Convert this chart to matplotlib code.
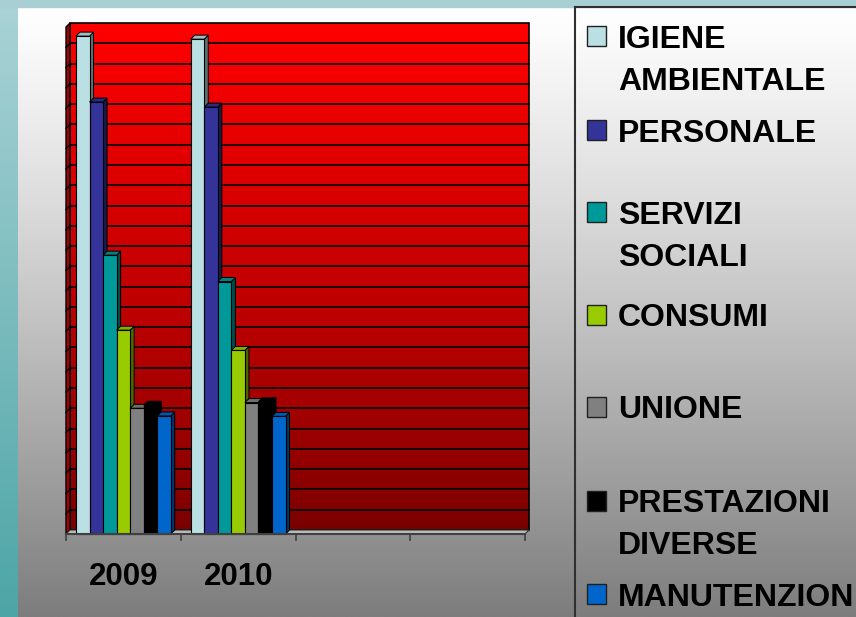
import matplotlib
matplotlib.use("Agg")
import matplotlib.pyplot as plt
import numpy as np
from matplotlib.patches import Polygon, Rectangle
from matplotlib.colors import to_rgb

# categories on the x axis (last two slots are empty in the original)
years = ["2009", "2010", "", ""]

series_names = [
    "IGIENE\nAMBIENTALE",
    "PERSONALE",
    "SERVIZI\nSOCIALI",
    "CONSUMI",
    "UNIONE",
    "PRESTAZIONI\nDIVERSE",
    "MANUTENZION",
]
series_colors = ["#BBE0E3", "#333399", "#009999", "#99CC00", "#808080", "#000000", "#0066CC"]

# values per series, one per year (read in grid units, no scale shown)
igiene = [24.55, 24.4]
personale = [21.3, 21.05]
servizi = [13.75, 12.45]
consumi = [10.05, 9.05]
unione = [6.2, 6.48]
prestazioni = [6.35, 6.52]
manutenzione = [5.82, 5.8]
values = [igiene, personale, servizi, consumi, unione, prestazioni, manutenzione]

W, H, DPI = 856, 617, 100
FONT = "Liberation Sans"

fig = plt.figure(figsize=(W / DPI, H / DPI), dpi=DPI)

# ---- background (pixel coordinates) ----
bg = fig.add_axes([0, 0, 1, 1])
bg.set_xlim(0, W)
bg.set_ylim(H, 0)
bg.axis("off")

t = np.linspace(0, 1, 256) ** 1.15
panel = (255 - 130 * t)[:, None, None] * np.ones((1, 1, 3)) / 255
bg.imshow(panel, extent=(18, W, H, 7), aspect="auto", zorder=0)

top_teal = np.array(to_rgb("#aad3d6"))
bot_teal = np.array(to_rgb("#4da5a6"))
tt = np.linspace(0, 1, 256)[:, None, None]
teal = top_teal * (1 - tt) + bot_teal * tt
bg.imshow(teal, extent=(0, 18, H, 0), aspect="auto", zorder=1)
bg.add_patch(Rectangle((0, 0), W, 7, color="#a8d0d4", zorder=1))

# legend frame
bg.plot([575, 575], [7, H], color="#303030", lw=1.5, zorder=2)
bg.plot([575, W], [7, 7], color="#303030", lw=1.5, zorder=2)

legend_rows = [36, 130, 212, 315, 407, 501, 594]
line_step = 42
for name, color, cy in zip(series_names, series_colors, legend_rows):
    bg.add_patch(Rectangle((587, cy - 10), 19, 20, facecolor=color,
                           edgecolor="#202020", lw=1.0, zorder=3))
    for k, line in enumerate(name.split("\n")):
        bg.text(618, cy + 11.5 + k * line_step, line, fontsize=23, fontweight="bold",
                family=FONT, va="baseline", ha="left", color="black", zorder=3)

# ---- chart (front plane of the 3D box) ----
left, right, bottom, top = 66, 525, 534, 27
ax = fig.add_axes([left / W, (H - bottom) / H, (right - left) / W, (bottom - top) / H])
ax.set_facecolor("none")
ymax = 25
ax.set_xlim(0, len(years))
ax.set_ylim(0, ymax)

# depth offset of the 3D effect, pixels -> data units
DX, DY = 4, 4
ddx = len(years) * DX / (right - left)
ddy = ymax * DY / (bottom - top)

# back wall with red gradient
wall = np.linspace(1, 0, 256)
red = np.zeros((256, 1, 3))
red[:, 0, 0] = (120 + 135 * wall ** 0.8) / 255
ax.imshow(red, extent=(ddx, len(years) + ddx, ddy, ymax + ddy), aspect="auto",
          zorder=0, clip_on=False)
ax.add_patch(Rectangle((ddx, ddy), len(years), ymax, fill=False, edgecolor="black",
                       lw=1.2, zorder=1, clip_on=False))
# side wall
ax.add_patch(Polygon([(0, 0), (0, ymax), (ddx, ymax + ddy), (ddx, ddy)], closed=True,
                     facecolor="#a00000", edgecolor="black", lw=1.0, zorder=1, clip_on=False))
# floor
ax.add_patch(Polygon([(0, 0), (len(years), 0), (len(years) + ddx, ddy), (ddx, ddy)],
                     closed=True, facecolor="#bdbdbd", edgecolor="#303030", lw=0.8,
                     zorder=1, clip_on=False))
for g in range(1, ymax):
    ax.plot([ddx, len(years) + ddx], [g + ddy, g + ddy], color="black", lw=1.2,
            zorder=1, clip_on=False)
    ax.plot([0, ddx], [g, g + ddy], color="black", lw=1.0, zorder=1, clip_on=False)

# 3D columns
n = len(series_names)
bw = 0.118
start = 0.5 - n * bw / 2
z = 2
for i in range(len(years)):
    for j in range(n):
        if i >= len(values[j]):
            continue
        h = values[j][i]
        x0 = i + start + j * bw
        c = np.array(to_rgb(series_colors[j]))
        ax.add_patch(Polygon([(x0 + bw, 0), (x0 + bw, h), (x0 + bw + ddx, h + ddy),
                              (x0 + bw + ddx, ddy)], closed=True, facecolor=c * 0.5,
                             edgecolor="black", lw=0.7, zorder=z, clip_on=False))
        ax.add_patch(Polygon([(x0, h), (x0 + bw, h), (x0 + bw + ddx, h + ddy),
                              (x0 + ddx, h + ddy)], closed=True, facecolor=c * 0.85,
                             edgecolor="black", lw=0.7, zorder=z, clip_on=False))
        ax.bar(x0, h, width=bw, align="edge", color=c, edgecolor="black", lw=0.8,
               zorder=z + 0.5, clip_on=False)
        z += 1

for s in ["top", "right", "left"]:
    ax.spines[s].set_visible(False)
ax.spines["bottom"].set_color("#404040")
ax.spines["bottom"].set_linewidth(1.5)
ax.spines["bottom"].set_zorder(100)
ax.set_yticks([])
ax.set_xticks(range(len(years) + 1))
ax.set_xticklabels([])
ax.tick_params(axis="x", which="major", length=5, width=1.2, color="#404040")
ax.set_xticks(np.arange(len(years)) + 0.5, minor=True)
ax.set_xticklabels(years, minor=True, fontsize=22.5, fontweight="bold", family=FONT)
ax.tick_params(axis="x", which="minor", length=0, pad=20)

fig.savefig("out.png", dpi=DPI)
